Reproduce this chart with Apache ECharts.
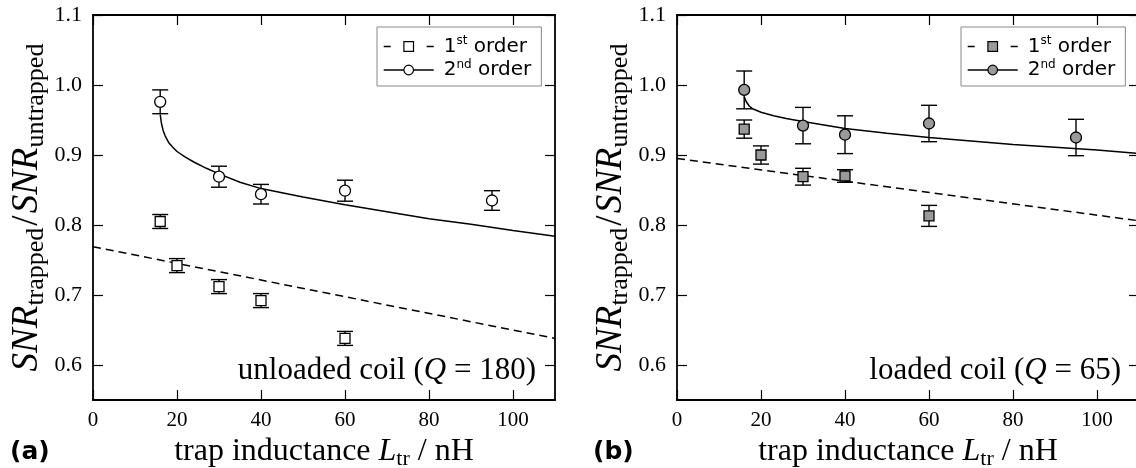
<!DOCTYPE html>
<html>
<head>
<meta charset="utf-8">
<script src="https://cdn.jsdelivr.net/npm/echarts@6/dist/echarts.min.js"></script>
<style>
  html, body { margin: 0; padding: 0; background: #fff; }
  #chart { width: 1136px; height: 468px; }
</style>
</head>
<body>
<div id="chart"></div>
<script>
// tick positions
const xTicks = [0, 20, 40, 60, 80, 100];
const yTicks = [0.6, 0.7, 0.8, 0.9, 1.0, 1.1];

// (a) unloaded coil - 1st order (squares)
const xA1 = [16, 20, 30, 40, 60];
const yA1 = [0.805, 0.742, 0.712, 0.692, 0.638];
const eA1 = [0.010, 0.010, 0.010, 0.010, 0.010];
// (a) unloaded coil - 2nd order (circles)
const xA2 = [16, 30, 40, 60, 95];
const yA2 = [0.976, 0.869, 0.844, 0.849, 0.835];
const eA2 = [0.017, 0.015, 0.014, 0.015, 0.014];
// (a) fit curves
const fitA1X = [0, 110];
const fitA1Y = [0.769, 0.638];
const fitA2X = [16, 16.3, 16.7, 17.2, 18, 19, 20, 22, 24, 27, 30, 35, 40, 45, 50, 60, 70, 80, 90, 100, 110];
const fitA2Y = [0.958, 0.945, 0.935, 0.927, 0.918, 0.911, 0.905, 0.897, 0.890, 0.881, 0.873, 0.861, 0.852, 0.846, 0.840, 0.829, 0.819, 0.809, 0.801, 0.792, 0.784];

// (b) loaded coil - 1st order (squares)
const xB1 = [16, 20, 30, 40, 60];
const yB1 = [0.937, 0.900, 0.869, 0.870, 0.813];
const eB1 = [0.013, 0.013, 0.012, 0.009, 0.015];
// (b) loaded coil - 2nd order (circles)
const xB2 = [16, 30, 40, 60, 95];
const yB2 = [0.993, 0.942, 0.929, 0.945, 0.925];
const eB2 = [0.027, 0.026, 0.027, 0.026, 0.026];
// (b) fit curves
const fitB1X = [0, 110];
const fitB1Y = [0.895, 0.806];
const fitB2X = [16, 16.5, 17.2, 18, 20, 23, 26, 30, 35, 40, 50, 60, 70, 80, 90, 100, 110];
const fitB2Y = [0.983, 0.976, 0.970, 0.966, 0.961, 0.956, 0.952, 0.948, 0.943, 0.938, 0.931, 0.925, 0.920, 0.915, 0.911, 0.907, 0.902];

const serif = 'Liberation Serif';
const sans = 'DejaVu Sans';
const dash = [8, 5];

const chart = echarts.init(document.getElementById('chart'));

function zip(xs, ys) { return xs.map((x, i) => [x, ys[i]]); }
function zipErr(xs, ys, es) { return xs.map((x, i) => [x, ys[i] - es[i], ys[i] + es[i]]); }

function errorBars(ai, data) {
  return {
    type: 'custom', xAxisIndex: ai * 2, yAxisIndex: ai * 2, data: data, z: 3, silent: true,
    encode: { x: 0, y: [1, 2] },
    renderItem: function (params, api) {
      const lo = api.coord([api.value(0), api.value(1)]);
      const hi = api.coord([api.value(0), api.value(2)]);
      const w = 8;
      const st = { stroke: '#000', lineWidth: 1.4 };
      return {
        type: 'group', children: [
          { type: 'line', shape: { x1: lo[0], y1: lo[1], x2: hi[0], y2: hi[1] }, style: st },
          { type: 'line', shape: { x1: lo[0] - w, y1: lo[1], x2: lo[0] + w, y2: lo[1] }, style: st },
          { type: 'line', shape: { x1: hi[0] - w, y1: hi[1], x2: hi[0] + w, y2: hi[1] }, style: st }
        ]
      };
    }
  };
}

const spine = { show: true, onZero: false, lineStyle: { color: '#000', width: 1.8 } };
const tickLine = { color: '#000', width: 1.2 };

function axesFor(gi) {
  const xs = [
    {
      type: 'value', gridIndex: gi, min: 0, max: 110, position: 'bottom',
      axisLine: spine,
      axisTick: { inside: true, length: 10, customValues: xTicks, lineStyle: tickLine },
      axisLabel: { customValues: xTicks, margin: 10, fontFamily: serif, fontSize: 21, color: '#000' },
      splitLine: { show: false },
      name: '{n|trap inductance }{i|L}{s|tr}{n| / nH}',
      nameLocation: 'middle', nameGap: 31,
      nameTextStyle: {
        color: '#000',
        rich: {
          n: { fontFamily: serif, fontSize: 32, lineHeight: 36, color: '#000' },
          i: { fontFamily: serif, fontStyle: 'italic', fontSize: 32, lineHeight: 36, color: '#000' },
          s: { fontFamily: serif, fontSize: 22, lineHeight: 26, verticalAlign: 'bottom', color: '#000' }
        }
      }
    },
    {
      type: 'value', gridIndex: gi, min: 0, max: 110, position: 'top',
      axisLine: spine,
      axisTick: { inside: true, length: 10, customValues: xTicks, lineStyle: tickLine },
      axisLabel: { show: false },
      splitLine: { show: false }
    }
  ];
  const ys = [
    {
      type: 'value', gridIndex: gi, min: 0.55, max: 1.1, position: 'left',
      axisLine: spine,
      axisTick: { inside: true, length: 10, customValues: yTicks, lineStyle: tickLine },
      axisLabel: { customValues: yTicks, margin: 11, fontFamily: serif, fontSize: 22, color: '#000',
        formatter: v => v.toFixed(1) },
      splitLine: { show: false },
      name: '{i|SNR}{s|trapped}{n|/}{i|SNR}{s|untrapped}',
      nameLocation: 'middle', nameGap: 44, nameRotate: 90,
      nameTextStyle: {
        color: '#000',
        rich: {
          i: { fontFamily: serif, fontStyle: 'italic', fontSize: 37, lineHeight: 44, color: '#000' },
          n: { fontFamily: serif, fontSize: 37, lineHeight: 44, color: '#000', padding: [0, 2, 0, 2] },
          s: { fontFamily: serif, fontSize: 26, lineHeight: 30, verticalAlign: 'bottom', color: '#000' }
        }
      }
    },
    {
      type: 'value', gridIndex: gi, min: 0.55, max: 1.1, position: 'right',
      axisLine: spine,
      axisTick: { inside: true, length: 10, customValues: yTicks, lineStyle: tickLine },
      axisLabel: { show: false },
      splitLine: { show: false }
    }
  ];
  return { xs, ys };
}

const axA = axesFor(0);
const axB = axesFor(1);

const legendText = { a1: '{n|1}{s|st}{n| order}', a2: '{n|2}{s|nd}{n| order}',
                     b1: '{n|1}{s|st}{n| order}', b2: '{n|2}{s|nd}{n| order}' };

function legendFor(left, n1, n2, fill) {
  return {
    orient: 'vertical', left: left, top: 27,
    padding: [8, 10, 6, 6], itemGap: 2, itemWidth: 50, itemHeight: 12,
    borderColor: '#888', borderWidth: 1, backgroundColor: '#fff',
    selectedMode: false,
    formatter: name => legendText[name],
    textStyle: {
      padding: [0, 0, 0, 5],
      rich: {
        n: { fontFamily: sans, fontSize: 20, lineHeight: 23, color: '#000' },
        s: { fontFamily: sans, fontSize: 12, lineHeight: 13, verticalAlign: 'top', color: '#000' }
      }
    },
    data: [
      { name: n1, itemStyle: { color: fill, borderColor: '#000', borderWidth: 1.2 },
        lineStyle: { color: '#000', width: 1.4, type: [7, 36] } },
      { name: n2, itemStyle: { color: fill, borderColor: '#000', borderWidth: 1.2 },
        lineStyle: { color: '#000', width: 1.4, type: 'solid' } }
    ]
  };
}

function fitLine(name, ai, data, sym, fill, type) {
  return {
    type: 'line', name: name, xAxisIndex: ai * 2, yAxisIndex: ai * 2, data: data,
    symbol: sym, showSymbol: false, silent: true, z: 2,
    lineStyle: { color: '#000', width: 1.5, type: type },
    itemStyle: { color: fill, borderColor: '#000' }
  };
}

function points(ai, data, sym, size, fill) {
  return {
    type: 'scatter', xAxisIndex: ai * 2, yAxisIndex: ai * 2, data: data,
    symbol: sym, symbolSize: size, silent: true, z: 4,
    itemStyle: { color: fill, borderColor: '#000', borderWidth: 1.3, opacity: 1 }
  };
}

const gray = '#9a9a9a';

const option = {
  animation: false,
  backgroundColor: '#fff',
  grid: [
    { left: 93, top: 15, width: 462, height: 385, outerBoundsMode: 'none', containLabel: false },
    { left: 677, top: 15, width: 462, height: 385, outerBoundsMode: 'none', containLabel: false }
  ],
  xAxis: axA.xs.concat(axB.xs),
  yAxis: axA.ys.concat(axB.ys),
  legend: [legendFor(377, 'a1', 'a2', '#fff'), legendFor(961, 'b1', 'b2', gray)],
  graphic: [
    { type: 'text', x: 536, y: 371, z: 10,
      style: { text: 'unloaded coil ({q|Q} = 180)', align: 'right', verticalAlign: 'middle',
        textAlign: 'right', textVerticalAlign: 'middle',
        font: '31px "Liberation Serif"', fill: '#000',
        rich: { q: { fontFamily: serif, fontStyle: 'italic', fontSize: 31, fill: '#000' } } } },
    { type: 'text', x: 1121, y: 371, z: 10,
      style: { text: 'loaded coil ({q|Q} = 65)', align: 'right', verticalAlign: 'middle',
        textAlign: 'right', textVerticalAlign: 'middle',
        font: '31px "Liberation Serif"', fill: '#000',
        rich: { q: { fontFamily: serif, fontStyle: 'italic', fontSize: 31, fill: '#000' } } } },
    { type: 'text', x: 10, y: 452,
      style: { text: '(a)', verticalAlign: 'middle', textVerticalAlign: 'middle',
        font: 'bold 25px "DejaVu Sans"', fill: '#000' } },
    { type: 'text', x: 593, y: 452,
      style: { text: '(b)', verticalAlign: 'middle', textVerticalAlign: 'middle',
        font: 'bold 25px "DejaVu Sans"', fill: '#000' } }
  ],
  series: [
    fitLine('a1', 0, zip(fitA1X, fitA1Y), 'rect', '#fff', dash),
    fitLine('a2', 0, zip(fitA2X, fitA2Y), 'circle', '#fff', 'solid'),
    errorBars(0, zipErr(xA1, yA1, eA1)),
    errorBars(0, zipErr(xA2, yA2, eA2)),
    points(0, zip(xA1, yA1), 'rect', 10, '#fff'),
    points(0, zip(xA2, yA2), 'circle', 11, '#fff'),

    fitLine('b1', 1, zip(fitB1X, fitB1Y), 'rect', gray, dash),
    fitLine('b2', 1, zip(fitB2X, fitB2Y), 'circle', gray, 'solid'),
    errorBars(1, zipErr(xB1, yB1, eB1)),
    errorBars(1, zipErr(xB2, yB2, eB2)),
    points(1, zip(xB1, yB1), 'rect', 10, gray),
    points(1, zip(xB2, yB2), 'circle', 11, gray)
  ]
};

chart.setOption(option);
</script>
</body>
</html>
